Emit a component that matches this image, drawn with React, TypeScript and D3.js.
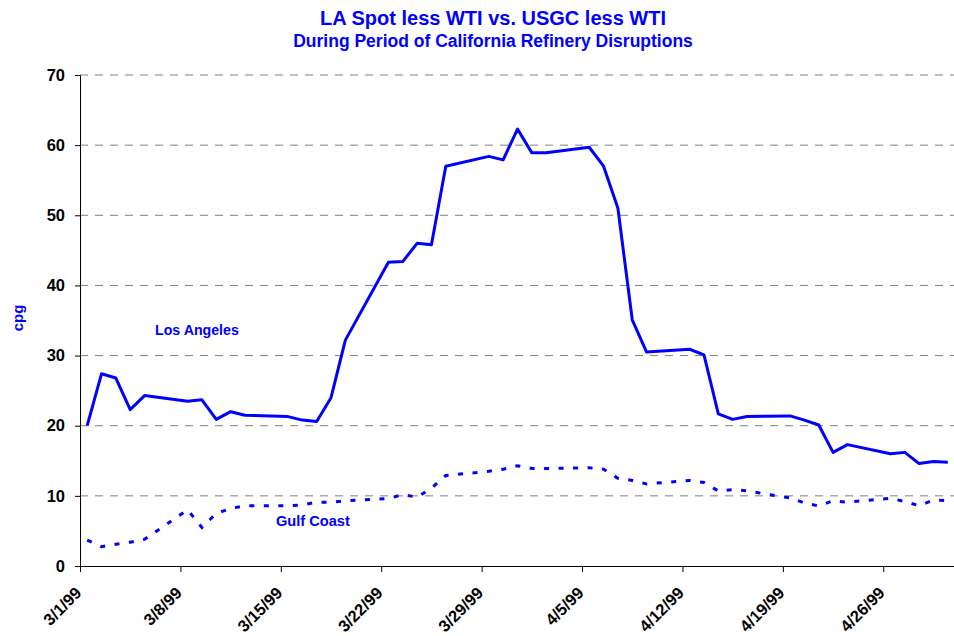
import React, { useEffect, useRef } from 'react';
import * as d3 from 'd3';

// business days, March–April 1999
const DATES = [
  '1999-03-01', '1999-03-02', '1999-03-03', '1999-03-04', '1999-03-05',
  '1999-03-08', '1999-03-09', '1999-03-10', '1999-03-11', '1999-03-12',
  '1999-03-15', '1999-03-16', '1999-03-17', '1999-03-18', '1999-03-19',
  '1999-03-22', '1999-03-23', '1999-03-24', '1999-03-25', '1999-03-26',
  '1999-03-29', '1999-03-30', '1999-03-31', '1999-04-01', '1999-04-02',
  '1999-04-05', '1999-04-06', '1999-04-07', '1999-04-08', '1999-04-09',
  '1999-04-12', '1999-04-13', '1999-04-14', '1999-04-15', '1999-04-16',
  '1999-04-19', '1999-04-20', '1999-04-21', '1999-04-22', '1999-04-23',
  '1999-04-26', '1999-04-27', '1999-04-28', '1999-04-29', '1999-04-30',
];

const LA_VALUES = [
  20.0, 27.4, 26.8, 22.3, 24.3,
  23.5, 23.7, 20.9, 22.0, 21.5,
  21.3, 20.8, 20.6, 24.0, 32.2,
  43.3, 43.4, 46.0, 45.8, 57.0,
  58.4, 57.9, 62.3, 58.9, 58.9,
  59.7, 57.0, 51.0, 35.1, 30.5,
  30.9, 30.1, 21.7, 20.9, 21.3,
  21.4, 20.8, 20.1, 16.2, 17.3,
  16.0, 16.2, 14.6, 14.9, 14.8,
];

const GULF_VALUES = [
  3.7, 2.75, 3.1, 3.4, 3.8,
  8.0, 5.5, 7.5, 8.2, 8.6,
  8.6, 8.7, 9.1, 9.1, 9.3,
  9.6, 10.2, 9.8, 11.1, 12.9,
  13.5, 13.8, 14.3, 13.9, 13.9,
  14.0, 13.8, 12.5, 12.2, 11.7,
  12.2, 11.9, 10.7, 10.9, 10.7,
  9.7, 9.0, 8.55, 9.3, 9.1,
  9.65, 9.2, 8.6, 9.4, 9.3,
];

const TICK_DATES = ['1999-03-01', '1999-03-08', '1999-03-15', '1999-03-22', '1999-03-29',
  '1999-04-05', '1999-04-12', '1999-04-19', '1999-04-26'];
const Y_TICKS = [0, 10, 20, 30, 40, 50, 60, 70];

const BLUE = '#0000ff';
const FONT = 'Arial, "Liberation Sans", sans-serif';

const W = 954;
const H = 636;
const M = { left: 80, right: 955, top: 75, bottom: 566 };

const App = () => {
  const ref = useRef<SVGSVGElement>(null);

  useEffect(() => {
    const svg = d3.select(ref.current);
    svg.selectAll('*').remove();

    const parse = d3.utcParse('%Y-%m-%d');
    const x = d3.scaleUtc()
      .domain([parse('1999-03-01')!, parse('1999-05-01')!])
      .range([M.left, M.right]);
    const y = d3.scaleLinear().domain([0, 70]).range([M.bottom, M.top]);
    const halfDay = 12 * 3600 * 1000;
    const px = (s: string) => x(new Date(parse(s)!.getTime() + halfDay));

    // gridlines
    svg.append('g')
      .selectAll('line')
      .data(Y_TICKS.filter(v => v > 0))
      .enter()
      .append('line')
      .attr('x1', M.left).attr('x2', M.right)
      .attr('y1', d => y(d)).attr('y2', d => y(d))
      .attr('stroke', '#808080')
      .attr('stroke-width', 1)
      .attr('stroke-dasharray', '8,7');

    // y axis
    const yAxis = svg.append('g')
      .attr('transform', `translate(${M.left},0)`)
      .call(d3.axisLeft(y).tickValues(Y_TICKS).tickSize(5).tickPadding(10));
    yAxis.select('.domain').attr('stroke', '#000');
    yAxis.selectAll('text')
      .attr('font-family', FONT).attr('font-size', 16.5).attr('font-weight', 'bold').attr('fill', '#000');

    // x axis
    const xAxis = svg.append('g')
      .attr('transform', `translate(0,${M.bottom})`)
      .call(d3.axisBottom(x).tickValues(TICK_DATES.map(s => parse(s)!)).tickSize(6)
        .tickFormat(d => d3.utcFormat('%-m/%-d/%y')(d as Date)));
    xAxis.select('.domain').attr('stroke', '#000');
    xAxis.selectAll('text')
      .attr('font-family', FONT).attr('font-size', 16.5).attr('font-weight', 'bold').attr('fill', '#000')
      .attr('text-anchor', 'end')
      .attr('transform', 'translate(-2,24) rotate(-45)')
      .attr('dy', '0.35em')
      .attr('y', 0);

    // lines
    const line = d3.line<number>()
      .x((_, i) => px(DATES[i]))
      .y(d => y(d));

    svg.append('path')
      .attr('d', line(LA_VALUES))
      .attr('fill', 'none')
      .attr('stroke', BLUE)
      .attr('stroke-width', 3)
      .attr('stroke-linejoin', 'round');

    svg.append('path')
      .attr('d', line(GULF_VALUES))
      .attr('fill', 'none')
      .attr('stroke', BLUE)
      .attr('stroke-width', 3)
      .attr('stroke-dasharray', '5,9.5');

    // series labels
    svg.append('text')
      .attr('x', 155).attr('y', 335)
      .attr('font-family', FONT).attr('font-size', 14.2).attr('font-weight', 'bold').attr('fill', BLUE)
      .text('Los Angeles');
    svg.append('text')
      .attr('x', 276).attr('y', 526)
      .attr('font-family', FONT).attr('font-size', 14.6).attr('font-weight', 'bold').attr('fill', BLUE)
      .text('Gulf Coast');

    // y label
    svg.append('text')
      .attr('transform', 'translate(23,318) rotate(-90)')
      .attr('text-anchor', 'middle')
      .attr('font-family', FONT).attr('font-size', 15).attr('font-weight', 'bold').attr('fill', BLUE)
      .text('cpg');

    // titles
    svg.append('text')
      .attr('x', 493).attr('y', 25)
      .attr('text-anchor', 'middle')
      .attr('font-family', FONT).attr('font-size', 20).attr('font-weight', 'bold').attr('fill', BLUE)
      .text('LA Spot less WTI vs. USGC less WTI');
    svg.append('text')
      .attr('x', 493).attr('y', 47)
      .attr('text-anchor', 'middle')
      .attr('font-family', FONT).attr('font-size', 17.5).attr('font-weight', 'bold').attr('fill', BLUE)
      .text('During Period of California Refinery Disruptions');
  }, []);

  return (
    <div style={{ position: 'fixed', left: 0, top: 0, background: '#fff' }}>
      <svg ref={ref} width={W} height={H} />
    </div>
  );
};

export default App;
